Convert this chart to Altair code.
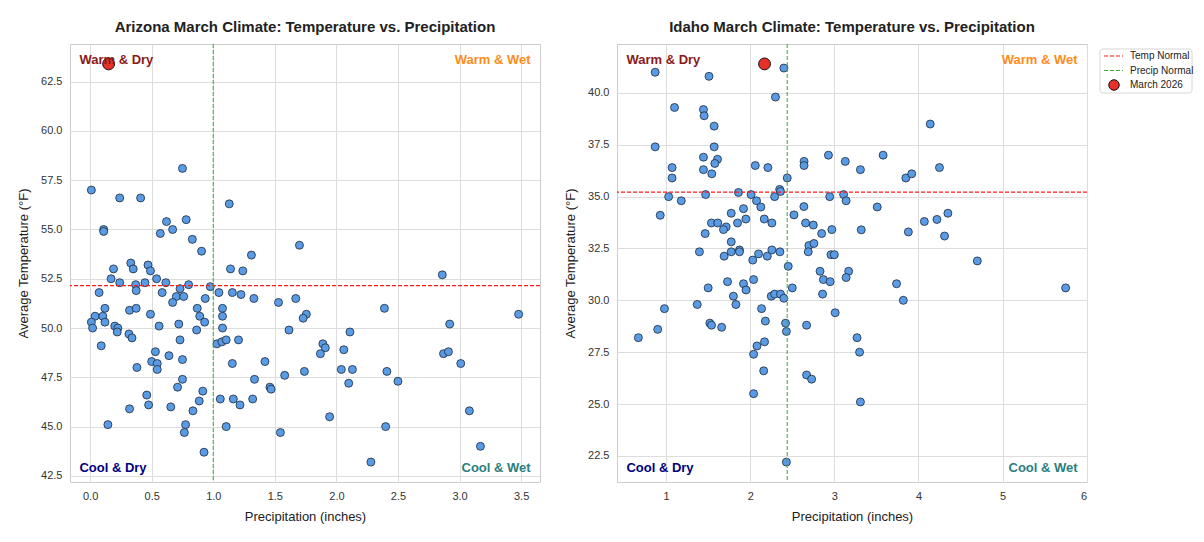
import altair as alt
import pandas as pd

# ---------------- Data ----------------
az_precip = [0.01, 0.24, 0.41, 0.75, 1.13, 0.11, 0.11, 0.62, 0.78, 0.57, 0.67, 0.83, 0.905, 1.31, 1.70,
             0.19, 0.33, 0.35, 0.47, 0.49, 1.14, 1.24,
             0.17, 0.24, 0.37, 0.445, 0.54, 0.615, 0.80, 0.976, 0.374, 0.073, 0.585, 0.73, 0.70, 0.76,
             0.67, 0.935, 1.046, 1.155, 1.225, 1.33, 1.53, 1.67, 0.12, 0.32, 0.374, 0.87, 1.075, 0.04,
             0.103, 0.01, 0.12, 0.49, 0.89, 0.93, 1.075, 0.02, 0.20, 0.225, 0.22, 0.56, 0.72, 0.865,
             1.075, 1.615, 0.315, 0.34, 0.73, 1.03, 1.07, 1.105, 1.205, 0.09, 0.53, 0.64, 0.75, 0.50,
             0.545, 0.545, 0.38, 1.155, 1.42, 1.335, 1.58, 0.75, 0.71, 0.915, 1.46, 1.47, 0.46, 0.475,
             0.32, 0.655, 0.886, 0.835, 1.057, 1.163, 1.217, 1.32, 0.144, 0.775, 0.765, 1.105, 1.545,
             0.925,
             2.86, 1.756, 1.73, 2.39, 3.48, 2.92, 2.11, 1.89, 1.91, 1.87, 2.06, 2.87, 2.91, 3.01, 1.74,
             2.04, 2.13, 2.41, 2.10, 2.50, 3.08, 1.945, 2.40, 3.17, 2.28]
az_temp = [57.0, 56.6, 56.6, 58.1, 56.3, 55.0, 54.9, 55.4, 55.5, 54.8, 55.0, 54.5, 53.9, 53.7, 54.2,
           53.0, 53.3, 53.0, 53.2, 52.9, 53.0, 52.9,
           52.5, 52.3, 52.2, 52.3, 52.5, 52.3, 52.2, 52.1, 51.9, 51.8, 51.8, 52.0, 51.6, 51.6,
           51.3, 51.5, 51.8, 51.8, 51.7, 51.5, 51.3, 51.5, 51.0, 50.9, 51.0, 51.0, 51.0, 50.6,
           50.6, 50.3, 50.3, 50.7, 50.6, 50.3, 50.6, 50.0, 50.1, 50.0, 49.8, 50.1, 50.2, 49.9,
           50.0, 49.9, 49.7, 49.5, 49.4, 49.2, 49.3, 49.4, 49.4, 49.1, 48.8, 48.6, 48.4, 48.3,
           48.2, 47.9, 48.0, 48.2, 48.3, 47.4, 47.6, 47.4, 47.0, 46.8, 47.0, 46.9, 46.6, 46.1,
           45.9, 46.0, 46.3, 45.8, 46.4, 46.4, 46.1, 46.4, 45.1, 45.1, 44.7, 45.0, 44.7,
           43.7,
           52.7, 50.7, 50.5, 51.0, 50.7, 50.2, 49.8, 49.2, 49.0, 48.7, 48.9, 48.7, 48.8, 48.2, 47.8,
           47.9, 47.9, 47.8, 47.2, 47.3, 45.8, 45.5, 45.0, 44.0, 43.2]

id_precip = [0.87, 1.51, 2.40, 2.30, 1.10, 1.444, 1.452, 1.571, 0.87, 1.571, 1.444, 1.611, 1.579, 1.444,
             1.543, 1.071, 1.071, 2.06, 2.21, 2.64, 2.64, 2.93, 2.44, 2.35, 2.36, 2.29, 1.03, 1.47, 1.86,
             2.01, 1.18, 2.075, 2.126, 1.92, 2.945, 0.93, 2.638, 2.52, 1.774, 1.948, 1.849, 2.167, 2.257,
             1.539, 1.614, 1.714, 1.682, 2.658, 2.75, 2.97, 1.464, 2.849, 1.774, 1.396, 1.69, 1.774,
             1.872, 1.872, 2.099, 2.203, 2.257, 2.353, 2.03, 2.452, 2.697, 2.757, 2.69,
             2.83, 2.87, 2.95, 2.86, 1.73, 1.50, 1.92, 1.95, 2.04, 2.50, 1.80, 1.83, 1.37, 0.98, 2.25,
             2.29, 2.36, 2.40, 2.135, 2.18, 2.42, 2.43, 2.67, 1.52, 1.54, 1.66, 0.90, 0.67, 2.17, 2.08,
             2.04, 2.16, 2.67, 2.73, 2.04, 2.43,
             4.14, 3.58, 3.13, 3.31, 4.25, 3.85, 3.92, 3.11, 3.14, 3.51, 4.07, 4.22, 4.35, 4.31, 3.88,
             3.32, 2.96, 3.00, 4.70, 3.17, 3.14, 3.74, 5.75, 3.82, 3.01, 3.27, 3.30, 3.31]
id_temp = [41.0, 40.8, 41.2, 39.8, 39.3, 39.2, 38.9, 38.4, 37.4, 37.4, 36.9, 36.8, 36.6, 36.3,
           36.1, 36.4, 35.9, 36.5, 36.4, 36.7, 36.5, 37.0, 35.9, 35.35, 35.25, 35.0, 35.0, 35.1, 35.2,
           35.1, 34.8, 34.8, 34.5, 34.42, 35.0, 34.1, 34.52, 34.12, 34.2, 33.92, 33.73, 33.92, 33.73,
           33.73, 33.73, 33.54, 33.41, 33.73, 33.63, 33.41, 33.22, 33.22, 32.82, 32.34, 32.13, 32.34,
           32.43, 32.34, 32.24, 32.13, 32.43, 32.34, 31.94, 31.64, 32.64, 32.74, 32.34,
           31.4, 31.0, 30.9, 30.3, 30.9, 30.6, 30.8, 30.5, 31.0, 30.6, 30.2, 29.8, 29.8, 29.6, 30.2,
           30.3, 30.3, 30.1, 29.6, 29.0, 28.9, 28.5, 28.8, 28.9, 28.8, 28.7, 28.6, 28.2, 28.0, 27.8,
           27.4, 26.6, 26.4, 26.2, 25.5, 22.2,
           38.5, 37.0, 36.7, 36.3, 36.4, 35.9, 36.1, 35.1, 34.8, 34.5, 33.8, 33.9, 34.2, 33.1, 33.3,
           33.4, 32.2, 32.2, 31.9, 31.4, 31.1, 30.8, 30.6, 30.0, 29.4, 28.2, 27.5, 25.1]

az_march = (0.15, 63.4)
id_march = (2.17, 41.4)
az_normals = (1.0, 52.15)   # precip normal, temp normal
id_normals = (2.44, 35.22)

az_xticks = [0.0, 0.5, 1.0, 1.5, 2.0, 2.5, 3.0, 3.5]
az_yticks = [42.5, 45.0, 47.5, 50.0, 52.5, 55.0, 57.5, 60.0, 62.5]
id_xticks = [1, 2, 3, 4, 5, 6]
id_yticks = [22.5, 25.0, 27.5, 30.0, 32.5, 35.0, 37.5, 40.0]

quadrant_labels = ["Warm & Dry", "Warm & Wet", "Cool & Dry", "Cool & Wet"]
quadrant_colors = ["#8B1A1A", "#FF8C1A", "#000080", "#2A8080"]
legend_labels = ["Temp Normal", "Precip Normal", "March 2026"]

W, H = 470, 438
FONT = "Liberation Sans"
RED_LINE = "#FF1A1A"
GREEN_LINE = "#3FA83F"


def padded(vals, extra):
    lo = min(list(vals) + [extra])
    hi = max(list(vals) + [extra])
    m = (hi - lo) * 0.05
    return [lo - m, hi + m]


def panel(title, px, ty, march, normals, xticks, yticks, xfmt, legend=False):
    df = pd.DataFrame({"precip": px, "temp": ty})
    xdom = padded(px, march[0])
    ydom = padded(ty, march[1])
    xs = alt.Scale(domain=xdom, nice=False, zero=False)
    ys = alt.Scale(domain=ydom, nice=False, zero=False)
    xaxis = alt.Axis(values=xticks, format=xfmt, title="Precipitation (inches)")
    yaxis = alt.Axis(values=yticks, format=".1f", title="Average Temperature (°F)")

    pts = alt.Chart(df).mark_circle(size=64, opacity=1, fill="#5A9BE6", stroke="#1c2a3a",
                                    strokeWidth=0.8).encode(
        x=alt.X("precip:Q", scale=xs, axis=xaxis),
        y=alt.Y("temp:Q", scale=ys, axis=yaxis),
    )
    norm_df = pd.DataFrame({"p": [normals[0]], "t": [normals[1]]})
    hline = alt.Chart(norm_df).mark_rule(color=RED_LINE, strokeDash=[4, 2], strokeWidth=1.2).encode(
        y=alt.Y("t:Q", scale=ys, axis=yaxis))
    vline = alt.Chart(norm_df).mark_rule(color=GREEN_LINE, strokeDash=[4, 2], strokeWidth=1.2,
                                         opacity=0.85).encode(x=alt.X("p:Q", scale=xs, axis=xaxis))
    mdf = pd.DataFrame({"p": [march[0]], "t": [march[1]]})
    mpt = alt.Chart(mdf).mark_circle(size=140, opacity=1, fill="#E8302A", stroke="#111111",
                                     strokeWidth=1).encode(
        x=alt.X("p:Q", scale=xs, axis=xaxis), y=alt.Y("t:Q", scale=ys, axis=yaxis))

    qdf = pd.DataFrame({"label": quadrant_labels, "color": quadrant_colors})
    qlayers = []
    pos = [(0.02 * W, 15.5, "left"), (W - 0.02 * W, 15.5, "right"),
           (0.02 * W, H - 14, "left"), (W - 0.02 * W, H - 14, "right")]
    for i, (qx, qy, al) in enumerate(pos):
        qlayers.append(
            alt.Chart(qdf.iloc[[i]]).mark_text(font=FONT, fontSize=13, fontWeight="bold",
                                               align=al, baseline="middle",
                                               color=quadrant_colors[i]).encode(
                x=alt.value(qx), y=alt.value(qy), text="label:N"))

    layers = [pts, hline, vline, mpt] + qlayers

    if legend:
        ldf = pd.DataFrame({"label": legend_labels})
        lx0 = W + 13
        frame = alt.Chart(ldf.iloc[[0]]).mark_rect(fill="white", stroke="#d6d6d6", strokeWidth=1,
                                                   cornerRadius=3).encode(
            x=alt.value(lx0), x2=alt.value(lx0 + 92), y=alt.value(5), y2=alt.value(49))
        r1 = alt.Chart(ldf.iloc[[0]]).mark_rule(color=RED_LINE, strokeDash=[4, 2], strokeWidth=1.2).encode(
            x=alt.value(lx0 + 4), x2=alt.value(lx0 + 23), y=alt.value(12))
        r2 = alt.Chart(ldf.iloc[[1]]).mark_rule(color=GREEN_LINE, strokeDash=[4, 2], strokeWidth=1.2).encode(
            x=alt.value(lx0 + 4), x2=alt.value(lx0 + 23), y=alt.value(26.5))
        c3 = alt.Chart(ldf.iloc[[2]]).mark_circle(size=110, opacity=1, fill="#E8302A", stroke="#111111",
                                                  strokeWidth=1).encode(
            x=alt.value(lx0 + 14), y=alt.value(41))
        tl = []
        for i, ty_ in enumerate([12, 26.5, 41]):
            tl.append(alt.Chart(ldf.iloc[[i]]).mark_text(font=FONT, fontSize=10, align="left",
                                                         baseline="middle", color="#222222").encode(
                x=alt.value(lx0 + 30), y=alt.value(ty_), text="label:N"))
        layers += [frame, r1, r2, c3] + tl

    return alt.layer(*layers).properties(
        width=W, height=H,
        title=alt.TitleParams(title, font=FONT, fontSize=15, fontWeight="bold", color="#222222",
                              offset=8, anchor="middle"))


left = panel("Arizona March Climate: Temperature vs. Precipitation", az_precip, az_temp,
             az_march, az_normals, az_xticks, az_yticks, ".1f")
right = panel("Idaho March Climate: Temperature vs. Precipitation", id_precip, id_temp,
              id_march, id_normals, id_xticks, id_yticks, "d", legend=True)

chart = alt.hconcat(left, right, spacing=22).properties(
    padding={"left": 9, "top": 11, "right": 0, "bottom": 0}
).configure_view(stroke="#cccccc", strokeWidth=1).configure_axis(
    labelFont=FONT, titleFont=FONT, labelFontSize=11, titleFontSize=13, titleFontWeight="normal",
    labelColor="#333333", titleColor="#222222", ticks=False, tickSize=0, domain=False,
    gridColor="#dddddd", gridWidth=1, labelPadding=8, titlePadding=10
).configure_axisX(titlePadding=9)

chart.save("out.html", embed_options={"renderer": "svg", "actions": False})
